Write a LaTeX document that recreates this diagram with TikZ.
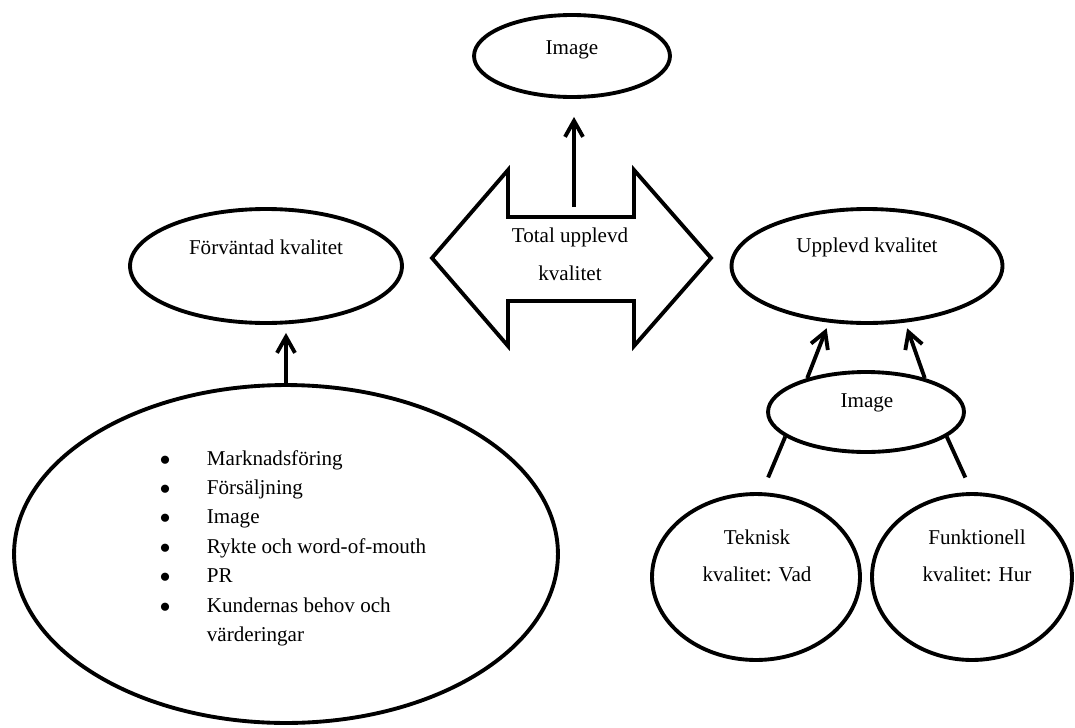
\documentclass[tikz,border=0pt]{standalone}
\usepackage{fontspec}
\setmainfont{Liberation Serif}
\usepackage{tikz}
\usetikzlibrary{arrows.meta, calc, shapes.geometric}

\begin{document}
\begin{tikzpicture}[x=0.02cm, y=-0.02cm, line width=2.2pt,
    >={Straight Barb[length=3.2mm, width=3.6mm]},
    oval/.style={draw, ellipse, inner sep=0pt},
    lbl/.style={font=\fontsize{12}{14.5}\selectfont, align=center, inner sep=0pt}]
    \useasboundingbox (0,0) rectangle (1075,727);

    \node[oval, minimum width=3.92cm, minimum height=1.64cm] (imgtop) at (572,56) {};
    \node[oval, minimum width=5.44cm, minimum height=2.28cm] (fv) at (266,266) {};
    \node[oval, minimum width=5.42cm, minimum height=2.28cm] (uk) at (867,266) {};
    \node[oval, minimum width=3.92cm, minimum height=1.60cm] (imgsm) at (866,412) {};
    \node[oval, minimum width=4.16cm, minimum height=3.32cm] (tek) at (756,577) {};
    \node[oval, minimum width=4.00cm, minimum height=3.32cm] (fun) at (972,577) {};
    \node[oval, minimum width=10.88cm, minimum height=6.76cm] (big) at (286,554) {};

    \draw (432,258) -- (508,170) -- (508,217) -- (634,217) -- (634,170) -- (711,258)
        -- (634,346) -- (634,301) -- (508,301) -- (508,346) -- cycle;

    \node[lbl] (imgtoptxt) at (572,50) {Image};
    \node[lbl] (tot) at (570,254) {Total upplevd\\[7pt]kvalitet};
    \node[lbl] (fvtxt) at (266,247) {Förväntad kvalitet};
    \node[lbl] (uktxt) at (867,247) {Upplevd kvalitet};
    \node[lbl] (imgsmtxt) at (867,403) {Image};
    \node[lbl] (tektxt) at (757,556) {Teknisk\\[6.5pt]kvalitet: Vad};
    \node[lbl] (funtxt) at (977,556) {Funktionell\\[6.5pt]kvalitet: Hur};
    \node[lbl, anchor=base west] (lst) at (158,465) {\renewcommand{\arraystretch}{1.154}%
        \begin{tabular}[t]{@{}p{0.94cm}@{}l@{}}
            $\bullet$ & Marknadsföring\\
            $\bullet$ & Försäljning\\
            $\bullet$ & Image\\
            $\bullet$ & Rykte och word-of-mouth\\
            $\bullet$ & PR\\
            $\bullet$ & Kundernas behov och\\
                      & värderingar
        \end{tabular}};

    \coordinate (totop) at (574,207);
    \draw[->, shorten >=0.36cm] (totop) -- (totop |- imgtop.south);
    \draw[->, shorten >=0.16cm] (big.north) -- (big.north |- fv.south);
    \draw[->, shorten >=0.12cm] (imgsm.150) -- (uk.236);
    \draw[->, shorten >=0.12cm] (imgsm.30) -- (uk.304);
    \draw[shorten >=0.32cm] (imgsm.197) -- (tek.86);
    \draw[shorten >=0.32cm] (imgsm.343) -- (fun.90);
\end{tikzpicture}
\end{document}
